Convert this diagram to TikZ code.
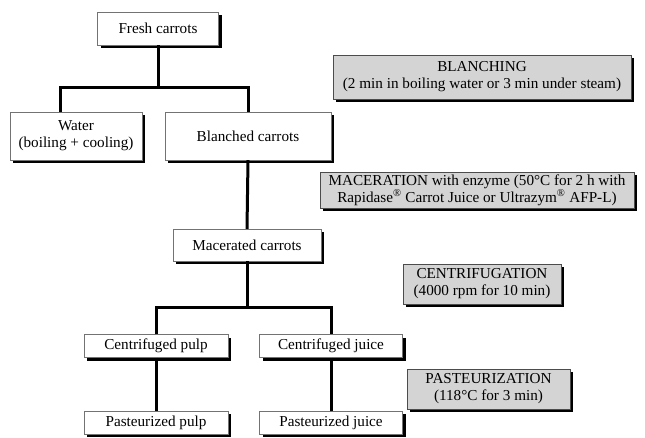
\documentclass[tikz,border=0pt]{standalone}
\usepackage{fontspec}
\setmainfont{Liberation Serif}
\usetikzlibrary{positioning,calc,shadows}

\begin{document}
\begin{tikzpicture}[
    x=1pt, y=-1pt,
    box/.style={rectangle, draw=black!55, fill=white, inner sep=1pt,
                align=center, font=\fontsize{15.2}{17}\selectfont,
                drop shadow={shadow xshift=3pt, shadow yshift=-3pt, opacity=1, fill=black}},
    stage/.style={box, fill=black!17, draw=black!70},
    link/.style={line width=3pt, black}
]
\useasboundingbox (0,0) rectangle (645,437);

% product boxes
\node[box, minimum width=121pt, minimum height=33pt] (fresh) at (158,28.5) {Fresh carrots};
\node[box, minimum width=132pt, minimum height=48pt] (water) at (76,136) {Water\\(boiling + cooling)};
\node[box, minimum width=166pt, minimum height=48pt] (blanched) at (248,136) {Blanched carrots};
\node[box, minimum width=148pt, minimum height=32pt] (macerated) at (247,245) {Macerated carrots};
\node[box, minimum width=144pt, minimum height=23pt] (cpulp) at (156,346) {Centrifuged pulp};
\node[box, minimum width=143pt, minimum height=23pt] (cjuice) at (331,346) {Centrifuged juice};
\node[box, minimum width=144pt, minimum height=23pt] (ppulp) at (156,422.5) {Pasteurized pulp};
\node[box, minimum width=143pt, minimum height=23pt] (pjuice) at (331,422.5) {Pasteurized juice};

% process steps
\node[stage, minimum width=298pt, minimum height=44pt] (blanching) at (482,77)
    {BLANCHING\\(2 min in boiling water or 3 min under steam)};
\node[stage, minimum width=314pt, minimum height=36pt] (maceration) at (477,190)
    {MACERATION with enzyme (50°C for 2 h with\\Rapidase\textsuperscript{®} Carrot Juice or Ultrazym\textsuperscript{®} AFP-L)};
\node[stage, minimum width=158pt, minimum height=40pt] (centrifugation) at (482,284)
    {CENTRIFUGATION\\(4000 rpm for 10 min)};
\node[stage, minimum width=163pt, minimum height=40pt] (pasteurization) at (488.5,389)
    {PASTEURIZATION\\(118°C for 3 min)};

% connectors
\coordinate (wdrop) at ($(water.north)+(-16,0)$);
\draw[link] (fresh.south) -- ++(0,42) coordinate (split1);
\draw[link] (wdrop) |- (split1) -| (blanched.north);
\draw[link] (blanched.south) -- (macerated.north);
\draw[link] (macerated.south) -- ++(0,46) coordinate (split2);
\draw[link] (cpulp.north) |- (split2) -| (cjuice.north);
\draw[link] (cpulp.south) -- (ppulp.north);
\draw[link] (cjuice.south) -- (pjuice.north);

\end{tikzpicture}
\end{document}
